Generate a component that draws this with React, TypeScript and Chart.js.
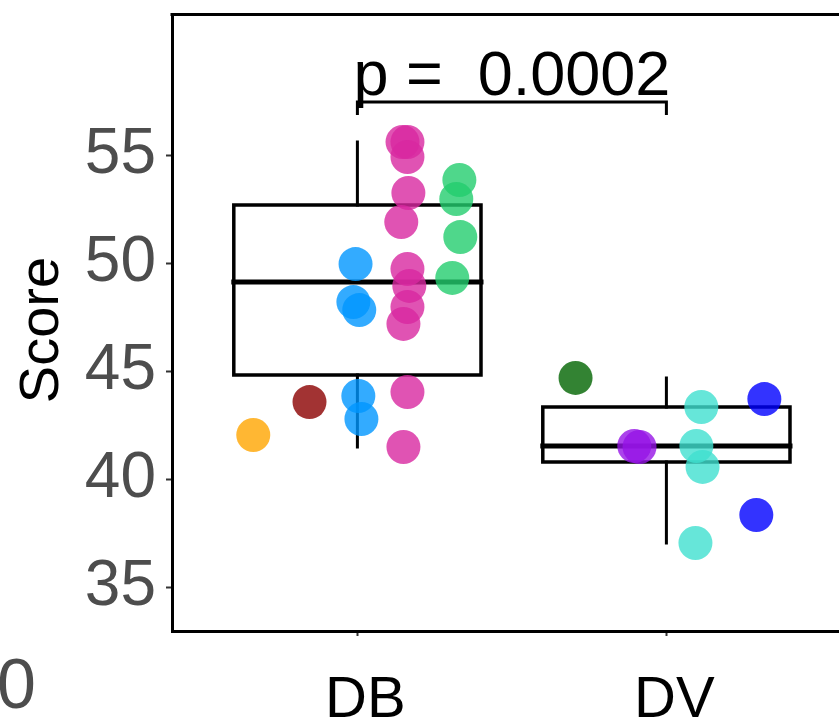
import React, { useEffect, useRef } from 'react';
import { Chart, registerables } from 'chart.js';

Chart.register(...registerables);

const FONT = "'Liberation Sans', Arial, Helvetica, sans-serif";

// ---- data ----
const categories = ['DB', 'DV'];
const yTicks = [35, 40, 45, 50, 55];

// box statistics per category
const boxQ1 = [44.81, 40.79];
const boxMedian = [49.12, 41.53];
const boxQ3 = [52.69, 43.33];
const whiskerLow = [41.48, 37.04];
const whiskerHigh = [55.6, 44.68];

// significance bracket
const bracketFrom = 1;
const bracketTo = 2;
const bracketY = 57.45;
const bracketTipY = 56.85;
const pLabel = 'p =  0.0002';

// colour palette of the subgroups
const palette = [
  'rgba(255,165,0,0.8)',   // orange
  'rgba(139,0,0,0.8)',     // dark red
  'rgba(0,150,255,0.8)',   // blue
  'rgba(216,40,160,0.8)',  // pink
  'rgba(35,205,110,0.8)',  // green
  'rgba(0,100,0,0.8)',     // dark green
  'rgba(150,20,230,0.8)',  // purple
  'rgba(64,224,208,0.8)',  // turquoise
  'rgba(0,0,255,0.8)',     // blue
];

// individual points (category index, jitter offset, score, palette index)
const pointCategory = [
  0, 0,
  0, 0, 0, 0, 0,
  0, 0, 0, 0, 0, 0, 0, 0, 0, 0, 0,
  0, 0, 0, 0,
  1,
  1, 1,
  1, 1, 1, 1,
  1, 1,
];
const pointOffset = [
  -0.337, -0.155,
  -0.006, -0.013, 0.006, 0.003, 0.013,
  0.146, 0.162, 0.162, 0.165, 0.142, 0.162, 0.168, 0.162, 0.149, 0.162, 0.149,
  0.33, 0.32, 0.333, 0.307,
  -0.294,
  -0.104, -0.087,
  0.113, 0.097, 0.117, 0.094,
  0.317, 0.291,
];
const pointScore = [
  42.04, 43.56,
  49.95, 48.19, 47.82, 43.84, 42.78,
  55.6, 55.6, 54.91, 53.24, 51.9, 49.72, 48.94, 47.96, 47.18, 44.03, 41.48,
  53.84, 52.96, 51.2, 49.31,
  44.68,
  41.53, 41.48,
  43.33, 41.53, 40.56, 37.04,
  43.7, 38.33,
];
const pointColor = [
  0, 1,
  2, 2, 2, 2, 2,
  3, 3, 3, 3, 3, 3, 3, 3, 3, 3, 3,
  4, 4, 4, 4,
  5,
  6, 6,
  7, 7, 7, 7,
  8, 8,
];

const BOX_HALF = 0.4;

function buildBoxes() {
  const outline: any[] = [];
  const medians: any[] = [];
  const whiskers: any[] = [];
  categories.forEach((_, i) => {
    const c = i + 1;
    outline.push(
      { x: c - BOX_HALF, y: boxQ1[i] },
      { x: c + BOX_HALF, y: boxQ1[i] },
      { x: c + BOX_HALF, y: boxQ3[i] },
      { x: c - BOX_HALF, y: boxQ3[i] },
      { x: c - BOX_HALF, y: boxQ1[i] },
      { x: c - BOX_HALF, y: null },
    );
    medians.push(
      { x: c - BOX_HALF, y: boxMedian[i] },
      { x: c + BOX_HALF, y: boxMedian[i] },
      { x: c + BOX_HALF, y: null },
    );
    whiskers.push(
      { x: c, y: boxQ3[i] },
      { x: c, y: whiskerHigh[i] },
      { x: c, y: null },
      { x: c, y: boxQ1[i] },
      { x: c, y: whiskerLow[i] },
      { x: c, y: null },
    );
  });
  return { outline, medians, whiskers };
}

const decorPlugin = {
  id: 'decor',
  afterDraw(chart: any) {
    const { ctx, chartArea, scales } = chart;
    const x = scales.x;
    const y = scales.y;
    ctx.save();
    // top panel border
    ctx.strokeStyle = '#000';
    ctx.lineWidth = 3;
    ctx.beginPath();
    ctx.moveTo(chartArea.left - 1.5, chartArea.top + 0.5);
    ctx.lineTo(chartArea.right, chartArea.top + 0.5);
    ctx.stroke();

    // p-value label
    ctx.fillStyle = '#000';
    ctx.font = `63px ${FONT}`;
    ctx.textAlign = 'center';
    ctx.textBaseline = 'alphabetic';
    ctx.fillText(pLabel, x.getPixelForValue((bracketFrom + bracketTo) / 2), y.getPixelForValue(bracketY) - 7);

    // y-axis title
    ctx.save();
    ctx.translate(43, 330);
    ctx.rotate(-Math.PI / 2);
    ctx.font = `56px ${FONT}`;
    ctx.textAlign = 'center';
    ctx.textBaseline = 'middle';
    ctx.fillText('Score', 0, 0);
    ctx.restore();

    // stray cut-off label at the bottom left
    ctx.fillStyle = '#4D4D4D';
    ctx.font = `70px ${FONT}`;
    ctx.textAlign = 'right';
    ctx.textBaseline = 'alphabetic';
    ctx.fillText('0', 36, 708);
    ctx.restore();
  },
};

export default function App() {
  const ref = useRef<HTMLCanvasElement>(null);

  useEffect(() => {
    if (!ref.current) return;
    const { outline, medians, whiskers } = buildBoxes();
    const bracket = [
      { x: bracketFrom, y: bracketTipY },
      { x: bracketFrom, y: bracketY },
      { x: bracketTo, y: bracketY },
      { x: bracketTo, y: bracketTipY },
    ];
    const points = pointScore.map((v, i) => ({ x: pointCategory[i] + 1 + pointOffset[i], y: v }));

    const lineDs = (data: any[], width: number, order: number) => ({
      data,
      showLine: true,
      spanGaps: false,
      borderColor: '#000',
      borderWidth: width,
      borderJoinStyle: 'miter',
      borderCapStyle: 'square',
      pointRadius: 0,
      pointHoverRadius: 0,
      order,
    });

    const chart = new Chart(ref.current, {
      type: 'scatter',
      data: {
        datasets: [
          {
            data: points,
            backgroundColor: pointColor.map((c) => palette[c]),
            borderWidth: 0,
            pointRadius: 17,
            pointHoverRadius: 17,
            order: 1,
          } as any,
          lineDs(outline, 3.5, 3),
          lineDs(whiskers, 3, 3),
          lineDs(medians, 5, 2),
          { ...lineDs(bracket, 3, 2), borderCapStyle: 'butt' },
        ],
      },
      plugins: [decorPlugin],
      options: {
        responsive: false,
        animation: false,
        events: [],
        layout: { autoPadding: false, padding: { top: 14, left: 0, right: 0, bottom: 0 } },
        plugins: { legend: { display: false }, tooltip: { enabled: false } },
        scales: {
          x: {
            type: 'linear',
            min: 0.4,
            max: 2.5586,
            afterFit: (s: any) => { s.height = 96; s.paddingLeft = 0; s.paddingRight = 0; },
            afterBuildTicks: (s: any) => { s.ticks = categories.map((_, i) => ({ value: i + 1 })); },
            grid: { drawOnChartArea: false, drawTicks: true, tickLength: 5, tickColor: '#333', tickWidth: 2 },
            border: { display: true, color: '#000', width: 3 },
            ticks: {
              color: '#000',
              font: { family: FONT, size: 58 },
              padding: 30,
              labelOffset: 8,
              maxRotation: 0,
              autoSkip: false,
              callback: (v: any) => categories[Math.round(Number(v)) - 1] ?? '',
            },
          },
          y: {
            type: 'linear',
            min: 32.963,
            max: 61.528,
            afterFit: (s: any) => { s.width = 172; s.paddingTop = 0; s.paddingBottom = 0; },
            afterBuildTicks: (s: any) => { s.ticks = yTicks.map((v) => ({ value: v })); },
            grid: { drawOnChartArea: false, drawTicks: true, tickLength: 6, tickColor: '#333', tickWidth: 2 },
            border: { display: true, color: '#000', width: 3 },
            ticks: {
              color: '#4D4D4D',
              font: { family: FONT, size: 64 },
              padding: 10,
              autoSkip: false,
              callback: (v: any) => String(v),
            },
          },
        },
      } as any,
    });
    return () => chart.destroy();
  }, []);

  return (
    <div style={{ position: 'fixed', left: 0, top: 0, width: 839, height: 727, background: '#fff' }}>
      <canvas ref={ref} width={839} height={727} style={{ display: 'block' }} />
    </div>
  );
}
